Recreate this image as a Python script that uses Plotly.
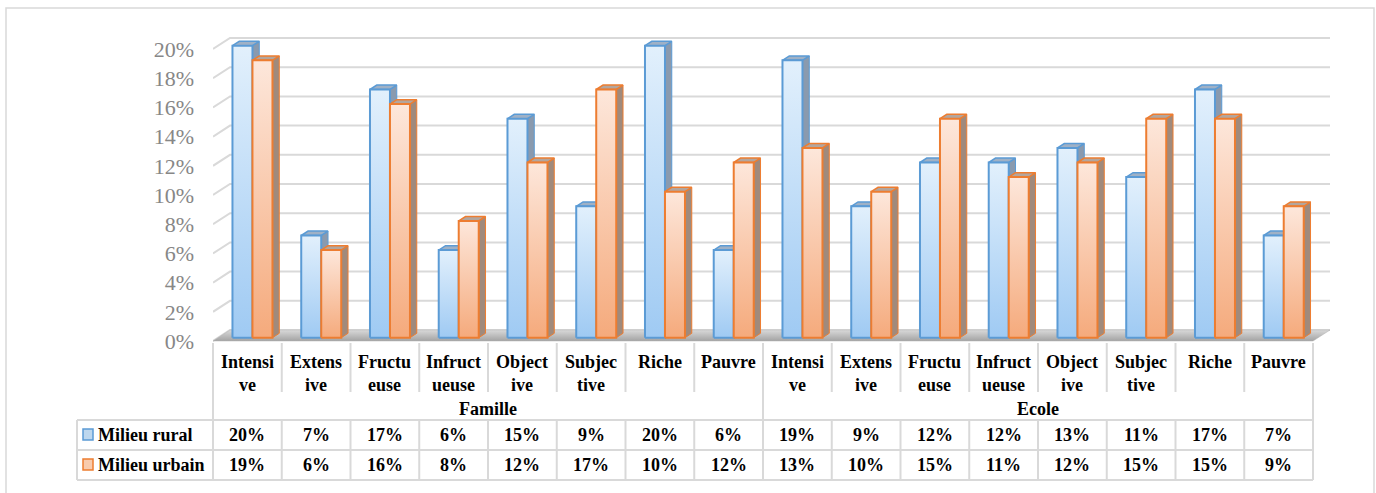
import plotly.graph_objects as go

# ---------------- data ----------------
groups = ["Famille", "Ecole"]
categories = ["Intensive", "Extensive", "Fructueuse", "Infructueuse",
              "Objective", "Subjective", "Riche", "Pauvre"]
category_labels = ["Intensi<br>ve", "Extens<br>ive", "Fructu<br>euse", "Infruct<br>ueuse",
                   "Object<br>ive", "Subjec<br>tive", "Riche", "Pauvre"]
series_names = ["Milieu rural", "Milieu urbain"]
rural = [20, 7, 17, 6, 15, 9, 20, 6, 19, 9, 12, 12, 13, 11, 17, 7]
urbain = [19, 6, 16, 8, 12, 17, 10, 12, 13, 10, 15, 11, 12, 15, 15, 9]
y_ticks = [0, 2, 4, 6, 8, 10, 12, 14, 16, 18, 20]
y_tick_labels = [f"{v}%" for v in y_ticks]

# ---------------- geometry / style ----------------
W, H = 1376, 493
PL, PR, PT, PB = 213, 1330, 30, 345        # plot area in pixels
N = len(categories) * len(groups)
COL = 68.75                                 # pixels per category
DX = 17 / COL                               # depth shift (x units)
YMIN, YMAX = -0.274, 21.301
PPU = (PB - PT) / (YMAX - YMIN)
DY = 11 / PPU                               # depth shift (y units)
F0, F1 = 0.3, 0.7                           # bar depth (fraction)
BW = 20 / COL                               # bar width

GRID = "#d9d9d9"
SERIF = "Liberation Serif, Times New Roman, serif"

styles = [
    dict(line="#5b9bd5", grad=[[0, "#9fcaf3"], [1, "#e2f0fc"]], top="#9fb1c6", side="#8a9aae", key="#bdd7ee"),
    dict(line="#ed7d31", grad=[[0, "#f5aa7c"], [1, "#fde7db"]], top="#b3a69e", side="#a08a7c", key="#f8cbad"),
]


def xp(px):
    return (px - PL) / (PR - PL)


def yp(py):
    return (PB - py) / (PB - PT)


fig = go.Figure()

# back wall gridlines + left-side stubs
for v in y_ticks:
    fig.add_trace(go.Scatter(x=[0, DX, N + DX], y=[v, v + DY, v + DY], mode="lines",
                             line=dict(color=GRID, width=2), hoverinfo="skip", showlegend=False))

# floor
fig.add_trace(go.Scatter(x=[0, N, N + DX, DX, 0], y=[0, 0, DY, DY, 0], mode="lines",
                         fill="toself", line=dict(color="#b0b0b0", width=0.5),
                         fillgradient=dict(type="vertical", colorscale=[[0, "#a3a3a3"], [1, "#d9d9d9"]]),
                         hoverinfo="skip", showlegend=False))

# 3D bars
ddx, ddy = (F1 - F0) * DX, (F1 - F0) * DY
base = F0 * DY
for i in range(N):
    c = i + 0.5 + F0 * DX
    for s, vals in enumerate([rural, urbain]):
        st = styles[s]
        v = vals[i]
        x0 = c - BW if s == 0 else c
        x1 = x0 + BW
        top = v + base
        # side face
        fig.add_trace(go.Scatter(
            x=[x1, x1 + ddx, x1 + ddx, x1, x1], y=[base, base + ddy, top + ddy, top, base],
            mode="lines", fill="toself", fillcolor=st["side"],
            line=dict(color=st["line"], width=1), hoverinfo="skip", showlegend=False))
        # top face
        fig.add_trace(go.Scatter(
            x=[x0, x1, x1 + ddx, x0 + ddx, x0], y=[top, top, top + ddy, top + ddy, top],
            mode="lines", fill="toself", fillcolor=st["top"],
            line=dict(color=st["line"], width=1.5), hoverinfo="skip", showlegend=False))
        # front face
        fig.add_trace(go.Scatter(
            x=[x0, x1, x1, x0, x0], y=[base, base, top, top, base],
            mode="lines", fill="toself",
            fillgradient=dict(type="vertical", colorscale=st["grad"]),
            line=dict(color=st["line"], width=2), name=series_names[s],
            hoverinfo="skip", showlegend=False))

shapes = []
annotations = []

# outer frame
shapes.append(dict(type="rect", xref="paper", yref="paper", x0=xp(6), x1=xp(1374),
                   y0=yp(505), y1=yp(8), line=dict(color=GRID, width=1.5)))


def vline(px, py0, py1):
    shapes.append(dict(type="line", xref="paper", yref="paper", x0=xp(px), x1=xp(px),
                       y0=yp(py0), y1=yp(py1), line=dict(color=GRID, width=2)))


def hline(py, px0, px1):
    shapes.append(dict(type="line", xref="paper", yref="paper", x0=xp(px0), x1=xp(px1),
                       y0=yp(py), y1=yp(py), line=dict(color=GRID, width=2)))


bounds = [PL + COL * k for k in range(N + 1)]
for k, b in enumerate(bounds):
    vline(b, 343, 392)
    if k % len(categories) == 0:
        vline(b, 392, 420)
    vline(b, 420, 480)
vline(77, 420, 480)
for py in (420, 450, 480):
    hline(py, 77, bounds[-1])

TFONT = dict(family=SERIF, size=18, color="black")

# category labels
for g in range(len(groups)):
    for j, lab in enumerate(category_labels):
        i = g * len(categories) + j
        annotations.append(dict(x=xp(bounds[i] + COL / 2), y=yp(350), xref="paper", yref="paper",
                                text=f"<b>{lab}</b>", showarrow=False, xanchor="center", yanchor="top",
                                font=TFONT))
    gx = (bounds[g * len(categories)] + bounds[(g + 1) * len(categories)]) / 2
    annotations.append(dict(x=xp(gx), y=yp(409), xref="paper", yref="paper",
                            text=f"<b>{groups[g]}</b>", showarrow=False, xanchor="center", yanchor="middle",
                            font=TFONT))

# data rows
row_y = [435, 465]
for s, vals in enumerate([rural, urbain]):
    st = styles[s]
    py = row_y[s]
    shapes.append(dict(type="rect", xref="paper", yref="paper", x0=xp(83), x1=xp(93),
                       y0=yp(py + 5), y1=yp(py - 6), fillcolor=st["key"],
                       line=dict(color=st["line"], width=1.5)))
    annotations.append(dict(x=xp(96), y=yp(py), xref="paper", yref="paper",
                            text=f"<b>{series_names[s]}</b>", showarrow=False, xanchor="left",
                            yanchor="middle", font=TFONT))
    for i, v in enumerate(vals):
        annotations.append(dict(x=xp(bounds[i] + COL / 2), y=yp(py), xref="paper", yref="paper",
                                text=f"<b>{v}%</b>", showarrow=False, xanchor="center",
                                yanchor="middle", font=TFONT))

fig.update_layout(
    width=W, height=H,
    margin=dict(l=PL, r=W - PR, t=PT, b=H - PB, pad=0),
    paper_bgcolor="white", plot_bgcolor="white",
    showlegend=False,
    xaxis=dict(range=[0, N + DX], visible=False, fixedrange=True),
    yaxis=dict(range=[YMIN, YMAX], showgrid=False, zeroline=False, showline=False,
               tickvals=y_ticks, ticktext=y_tick_labels, ticks="", ticklabelstandoff=18,
               tickfont=dict(family=SERIF, size=22, color="#878787"), fixedrange=True),
    shapes=shapes,
    annotations=annotations,
)

fig.write_html("out.html", config={"displayModeBar": False},
               post_script="document.body.style.margin='0';document.body.style.overflow='hidden';")
